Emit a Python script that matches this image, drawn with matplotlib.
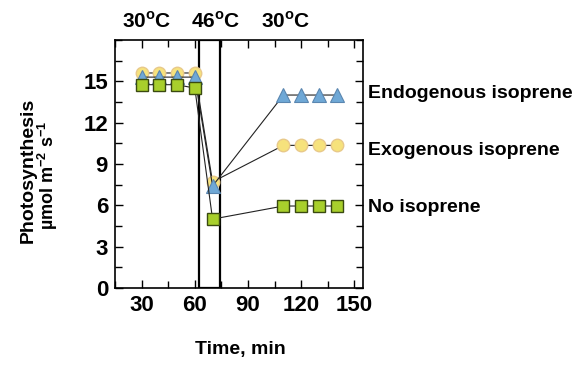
import matplotlib
matplotlib.use("Agg")
import matplotlib.pyplot as plt
from matplotlib.patches import Rectangle

plt.rcParams['font.family'] = ['Liberation Sans', 'DejaVu Sans']
plt.rcParams['font.weight'] = 'bold'
plt.rcParams['mathtext.fontset'] = 'custom'
plt.rcParams['mathtext.rm'] = 'Liberation Sans:bold'
plt.rcParams['mathtext.bf'] = 'Liberation Sans:bold'

# time points (min)
time = [30, 40, 50, 60, 70, 110, 120, 130, 140]
endogenous = [15.3, 15.3, 15.3, 15.3, 7.4, 14.0, 14.0, 14.0, 14.0]
exogenous = [15.6, 15.6, 15.6, 15.6, 7.7, 10.35, 10.35, 10.35, 10.35]
no_isoprene = [14.75, 14.75, 14.75, 14.5, 5.0, 5.95, 5.95, 5.95, 5.95]
series_labels = ['Endogenous isoprene', 'Exogenous isoprene', 'No isoprene']
label_y = [14.1, 10.0, 5.85]
heat_window = (62.5, 74.0)
temp_labels = ['30$^{\\rm o}$C', '46$^{\\rm o}$C', '30$^{\\rm o}$C']
temp_x = [33, 72, 111.5]

fig = plt.figure(figsize=(5.84, 3.66), dpi=100)
ax = fig.add_axes([0.197, 0.213, 0.425, 0.678])

ax.plot(time, exogenous, color='#222222', lw=0.8, marker='o', ms=9,
        mfc='#f6e27c', mec='#e8c98a', mew=1.0, zorder=3)
ax.plot(time, endogenous, color='#222222', lw=0.8, marker='^', ms=10,
        mfc='#6fa8d6', mec='#5a86b0', mew=0.8, zorder=4)
ax.plot(time, no_isoprene, color='#222222', lw=0.8, marker='s', ms=8,
        mfc='#a8cf2c', mec='#3a4a10', mew=1.0, zorder=5)

ax.add_patch(Rectangle((heat_window[0], 0), heat_window[1] - heat_window[0], 18,
                       fill=False, ec='black', lw=1.6, zorder=2))

ax.set_xlim(15, 155)
ax.set_ylim(0, 18)
ax.set_xticks([30, 60, 90, 120, 150])
ax.set_xticks(range(15, 155, 15), minor=True)
ax.set_yticks([0, 3, 6, 9, 12, 15])
ax.set_yticks([1.5 * i for i in range(13)], minor=True)
ax.tick_params(which='both', direction='in', top=True, right=True,
               labelsize=16, width=1.0, pad=5)
ax.tick_params(which='major', length=6)
ax.tick_params(which='minor', length=5)
for lbl in ax.get_xticklabels() + ax.get_yticklabels():
    lbl.set_fontweight('bold')
for sp in ax.spines.values():
    sp.set_linewidth(1.2)

ytrans = ax.get_yaxis_transform()
for txt, y in zip(series_labels, label_y):
    ax.text(1.02, y, txt, transform=ytrans, fontsize=14, fontweight='bold',
            ha='left', va='center')

xtrans = ax.get_xaxis_transform()
for txt, x in zip(temp_labels, temp_x):
    ax.text(x, 1.035, txt, transform=xtrans, fontsize=15, fontweight='bold',
            ha='center', va='bottom')

fig.text(0.048, 0.535, 'Photosynthesis', rotation=90, fontsize=14,
         fontweight='bold', ha='center', va='center')
fig.text(0.082, 0.52, '\u00b5mol m$^{-2}$ s$^{-1}$', rotation=90, fontsize=13,
         fontweight='bold', ha='center', va='center')
fig.text(0.411, 0.044, 'Time, min', fontsize=14, fontweight='bold',
         ha='center', va='center')

fig.savefig('out.png', dpi=100)
